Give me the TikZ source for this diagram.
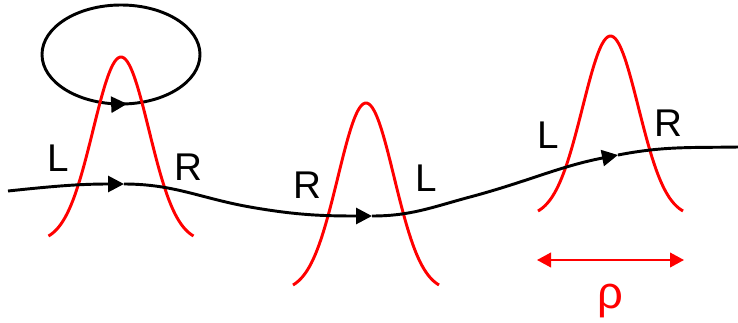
\documentclass[tikz,border=0pt]{standalone}
\usepackage{fontspec}
\setmainfont{Liberation Sans}
\usetikzlibrary{arrows.meta,decorations.markings}
\begin{document}
\begin{tikzpicture}[x=0.75pt,y=0.75pt,
  curve/.style={line width=2.2pt,black},
  bell/.style={line width=2.2pt,red},
  fwd/.style={curve,-{Triangle[length=12pt,width=12pt]}},
  lbl/.style={font=\fontsize{29}{30}\selectfont,inner sep=0pt},
  rholbl/.style={font=\fontsize{34}{36}\selectfont,inner sep=0pt,text=red},
  span/.style={line width=1.4pt,red,{Triangle[length=10.5pt,width=11pt]}-{Triangle[length=10.5pt,width=11pt]}},
  loopmark/.style={decoration={markings,mark=at position 0.765 with {\arrow{Triangle[length=12pt,width=12pt]}}},postaction={decorate}}
]
\useasboundingbox (0,0) rectangle (738,322);
\def\gbell#1#2#3#4{%
  \draw[bell] plot[domain=-1:1,samples=80,smooth]
    ({#1+#2*\x},{#3+#4*(exp(-((\x/0.385)^2)/2)-0.0343)/(1-0.0343)});}
% main curve coordinates
\coordinate (p0) at (8,131);
\coordinate (a1) at (124,138);
\coordinate (p1) at (250,115);
\coordinate (a2) at (372,106);
\coordinate (p2) at (470,125);
\coordinate (a3) at (618,167);
\coordinate (p3) at (738,175);
\coordinate (lc) at (121,267.5);
% loop
\draw[curve,loopmark] (lc) ellipse [x radius=79, y radius=49.5];
% bells
\gbell{121}{72.5}{86}{179}
\gbell{366}{73}{37}{182}
\gbell{610.5}{72.5}{111}{175}
% main curve
\draw[fwd] (p0) to[out=6,in=180] (a1);
\draw[curve] (a1) to[out=0,in=170] (p1);
\draw[fwd] (p1) to[out=-10,in=180] (a2);
\draw[curve] (a2) to[out=0,in=195] (p2);
\draw[fwd] (p2) to[out=15,in=191] (a3);
\draw[curve] (a3) to[out=11,in=181] (p3);
% labels
\node[lbl] (l1) at (58,164) {L};
\node[lbl] (r1) at (188,155) {R};
\node[lbl] (r2) at (307,137) {R};
\node[lbl] (l2) at (426,144) {L};
\node[lbl] (l3) at (548,187) {L};
\node[lbl] (r3) at (668,199) {R};
% span
\coordinate (s0) at (537,62);
\coordinate (s1) at (684,62);
\draw[span] (s0) -- (s1);
\node[rholbl] (rho) at (610,21) {ρ};
\end{tikzpicture}
\end{document}
